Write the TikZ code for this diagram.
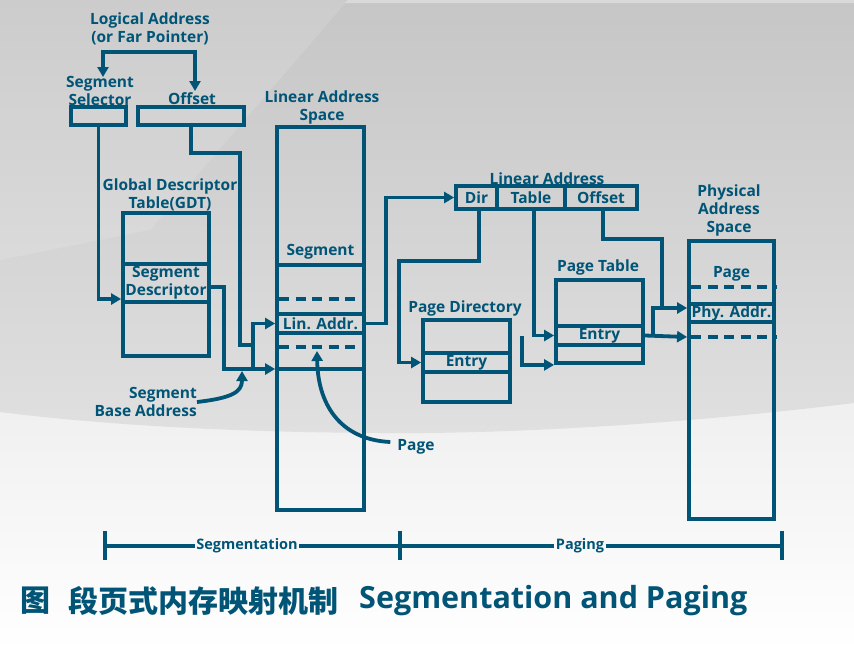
\documentclass[tikz,border=0pt]{standalone}
\usepackage{fontspec}
\setmainfont{Open Sans}
\newfontfamily\cjkfont{Noto Sans CJK SC}
\usetikzlibrary{arrows.meta,calc}
\definecolor{cblue}{RGB}{0,84,118}
\definecolor{bgA}{RGB}{198,198,198}
\definecolor{bgB}{RGB}{224,224,224}
\definecolor{bgC}{RGB}{238,238,238}
\definecolor{bgD}{RGB}{255,255,255}
\newcommand\myLab{\fontsize{15.5}{18}\selectfont\bfseries}
\newcommand\mySmall{\fontsize{14.5}{17}\selectfont\bfseries}
\tikzset{
  ln/.style={line width=3.8pt, draw=cblue},
  dashln/.style={ln, dash pattern=on 10pt off 6.5pt},
  box/.style={ln, rectangle, inner sep=0pt},
  lab/.style={text=cblue, font=\myLab, align=center, inner sep=0pt},
  cell/.style={box, text=cblue, font=\myLab, align=center},
  arr/.style={ln, -{Triangle[length=10pt,width=11pt]}},
  arrs/.style={ln, {Triangle[length=10pt,width=11pt]}-{Triangle[length=10pt,width=11pt]}},
  scalelab/.style={text=cblue, font=\mySmall, inner sep=1.5pt},
  ttl/.style={text=cblue, inner sep=0pt, anchor=west},
}
\begin{document}
\begin{tikzpicture}[x=1pt,y=-1pt]
\useasboundingbox (0,0) rectangle (854,651);
% background
\shade[top color=bgC, bottom color=bgD] (0,380) rectangle (854,651);
\shade[top color=bgA, bottom color=bgB] (0,0) -- (854,0) -- (854,403) .. controls (650,428) and (480,434) .. (380,433) .. controls (200,432) and (80,422) .. (0,412) -- cycle;
\fill[white, opacity=0.12] (0,0) -- (348,0) -- (150,230) -- (0,260) -- cycle;
\fill[white, opacity=0.35] (348,0) -- (854,0) -- (854,3) -- (345,3) -- cycle;

% logical address
\node[lab] (logical) at (150,29) {Logical Address\\(or Far Pointer)};
\node[lab] (sellab) at (100,91) {Segment\\Selector};
\node[lab] (offlab) at (192,99) {Offset};
\coordinate (lsel) at (103,77);
\coordinate (loff) at (195,91);
\draw[arrs] (lsel) |- (150,52) -| (loff);
\node[box, minimum width=55pt, minimum height=18pt] (selbox) at (98.5,116) {};
\node[box, minimum width=106pt, minimum height=18pt] (offbox) at (191,116) {};

% GDT
\node[lab] (gdtlab) at (170,195) {Global Descriptor\\Table(GDT)};
\node[box, minimum width=86pt, minimum height=143pt] (gdt) at (166,284.5) {};
\node[cell, minimum width=86pt, minimum height=38pt] (gdtdesc) at (166,283) {Segment\\Descriptor};

% Linear address space
\node[lab] (laslab) at (322,107) {Linear Address\\Space};
\node[box, minimum width=87pt, minimum height=383pt] (las) at (320.5,318.5) {};
\node[lab] (segtxt) at (320.5,252) {Segment};
\draw[ln] (las.west |- 0,265) -- (las.east |- 0,265);
\draw[dashln] (279,299) -- (362,299);
\node[cell, minimum width=87pt, minimum height=19pt] (linaddr) at (320.5,323.5) {Lin. Addr.};
\draw[dashln] (279,347) -- (362,347);
\draw[ln] (las.west |- 0,369) -- (las.east |- 0,369);

% segmentation connectors
\draw[arr] (selbox.south) |- (gdt.west |- 0,299);
\draw[ln] (offbox.south) |- (240,153) |- (253,345);
\draw[arr] (gdt.east |- 0,287) -| (224,369) -- (las.west |- 0,369);
\draw[arr] (253,369) |- (linaddr.west);

\node[lab, align=right, anchor=east] (sba) at (197,402) {Segment\\Base Address};
\draw[arr] (sba.east) .. controls (232,398) and (242,392) .. (242,371);

\node[lab] (pagelab) at (416,447) {Page};
\draw[arr] ([xshift=-7pt,yshift=5pt]pagelab.west) .. controls (345,440) and (318,410) .. (317,351);

% linear address (paging)
\node[lab] (la2lab) at (547,179) {Linear Address};
\node[cell, minimum width=41pt, minimum height=23pt] (dir) at (476.5,197.5) {Dir};
\node[cell, minimum width=68pt, minimum height=23pt] (tbl) at (531,197.5) {Table};
\node[cell, minimum width=72pt, minimum height=23pt] (off2) at (601,197.5) {Offset};
\draw[arr] (linaddr.east) -| (386,197.5) -- (dir.west);

% page directory
\node[lab] (pdlab) at (465,308) {Page Directory};
\node[box, minimum width=87pt, minimum height=82pt] (pd) at (466.5,361) {};
\node[cell, minimum width=87pt, minimum height=19pt] (pdentry) at (466.5,362.5) {Entry};

% page table
\node[lab] (ptlab) at (598,267) {Page Table};
\node[box, minimum width=87pt, minimum height=83pt] (pt) at (599.5,321.5) {};
\node[cell, minimum width=87pt, minimum height=19pt] (ptentry) at (599.5,335.5) {Entry};

% physical address space
\node[lab] (paslab) at (729,210) {Physical\\Address\\Space};
\node[box, minimum width=85pt, minimum height=278pt] (pas) at (731.5,380) {};
\node[lab] (pastxt) at (731.5,274) {Page};
\draw[dashln] (691,287) -- (777,287);
\node[cell, minimum width=85pt, minimum height=18pt] (phyaddr) at (731.5,313) {Phy. Addr.};
\draw[dashln] (691,337) -- (777,337);

% paging connectors
\draw[arr] (479,209) |- (399,261) |- (pdentry.west);
\draw[arr] (534,209) |- (ptentry.west);
\draw[arr] (522,335.5) |- (pt.south west);
\draw[ln] (603,209) |- (662,239) -- (662,308);
\draw[arr] (ptentry.east) -- (pas.west |- 0,337);
\draw[arr] (653,337) |- (pas.west |- 0,308);

% scale
\coordinate (t1) at (105,546);
\coordinate (t2) at (400,546);
\coordinate (t3) at (782,546);
\node[scalelab] (seglab) at (247,546) {Segmentation};
\node[scalelab] (paglab) at (580,546) {Paging};
\draw[ln] (t1) -- (seglab.west);
\draw[ln] (seglab.east) -- (paglab.west);
\draw[ln] (paglab.east) -- (t3);
\foreach \t in {t1,t2,t3} \draw[ln] ([yshift=15pt]\t) -- ([yshift=-14pt]\t);

% title
\node[ttl, font=\cjkfont\fontsize{30}{34}\selectfont\bfseries] (tfig) at (20,601) {图};
\node[ttl, font=\cjkfont\fontsize{30}{34}\selectfont\bfseries] (tcn) at (68,601) {段页式内存映射机制};
\node[ttl, font=\fontsize{30.5}{35}\selectfont\bfseries] (ten) at (359,601) {Segmentation and Paging};
\end{tikzpicture}
\end{document}
